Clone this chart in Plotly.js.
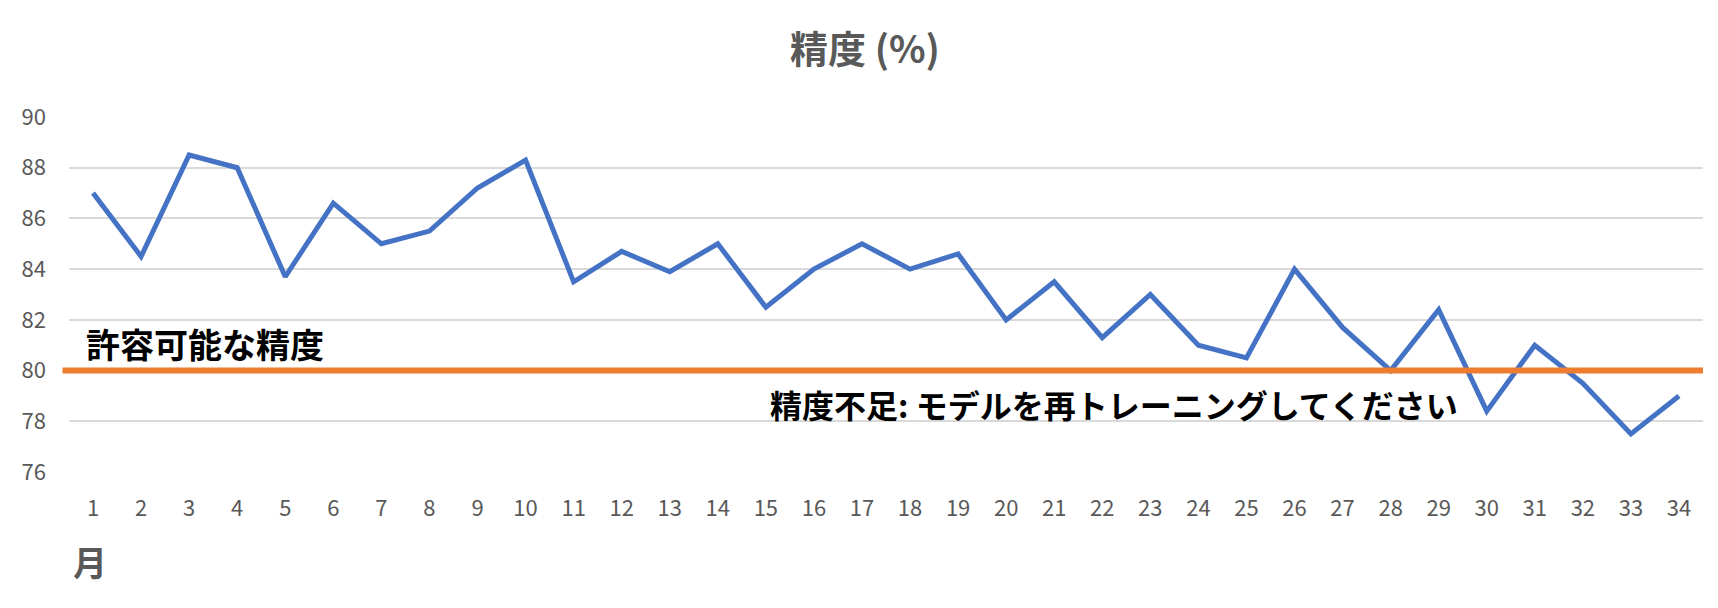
<!DOCTYPE html>
<html>
<head>
<meta charset="utf-8">
<script src="https://cdn.plot.ly/plotly-3.0.1.min.js"></script>
<style>
  html, body { margin: 0; padding: 0; background: #fff; }
  #chart { width: 1718px; height: 608px; }
</style>
</head>
<body>
<div id="chart"></div>
<script>
// months 1..34
const months = [1, 2, 3, 4, 5, 6, 7, 8, 9, 10, 11, 12, 13, 14, 15, 16, 17,
                18, 19, 20, 21, 22, 23, 24, 25, 26, 27, 28, 29, 30, 31, 32, 33, 34];
const accuracy = [87.0, 84.5, 88.5, 88.0, 83.7, 86.6, 85.0, 85.5, 87.2, 88.3, 83.5,
                  84.7, 83.9, 85.0, 82.5, 84.0, 85.0, 84.0, 84.6, 82.0, 83.5, 81.3,
                  83.0, 81.0, 80.5, 84.0, 81.7, 80.0, 82.4, 78.4, 81.0, 79.5, 77.5, 79.0];
const threshold = 80;
const yTicks = [76, 78, 80, 82, 84, 86, 88, 90];

const chartTitle = "精度 (%)";
const xLabel = "月";
const okLabel = "許容可能な精度";
const lowLabel = "精度不足: モデルを再トレーニングしてください";

const jp = '"Noto Sans CJK JP", "Noto Sans", sans-serif';

const traceAccuracy = {
    x: months,
    y: accuracy,
    type: "scatter",
    mode: "lines",
    line: { color: "#4472C4", width: 5 },
    hoverinfo: "x+y"
};

const layout = {
    width: 1718,
    height: 608,
    paper_bgcolor: "#ffffff",
    plot_bgcolor: "#ffffff",
    showlegend: false,
    margin: { l: 69, r: 15, t: 117, b: 136 },
    title: {
        text: "<b>" + chartTitle + "</b>",
        font: { family: jp, size: 38, color: "#595959" },
        x: 0.5035, xref: "container", xanchor: "center",
        y: 0.918, yref: "container", yanchor: "middle"
    },
    xaxis: {
        range: [0.5, 34.5],
        tickmode: "array",
        tickvals: months,
        ticktext: months.map(String),
        showgrid: false,
        zeroline: false,
        showline: false,
        ticks: "",
        ticklabelstandoff: 21,
        tickfont: { family: jp, size: 22, color: "#595959" }
    },
    yaxis: {
        range: [76, 90],
        tickmode: "array",
        tickvals: yTicks,
        showgrid: true,
        gridcolor: "#d9d9d9",
        gridwidth: 2,
        zeroline: false,
        showline: false,
        ticks: "",
        ticklabelstandoff: 22,
        tickfont: { family: jp, size: 22, color: "#595959" }
    },
    shapes: [{
        type: "line",
        xref: "paper", yref: "y",
        x0: -0.004, x1: 1.0,
        y0: threshold, y1: threshold,
        line: { color: "#ED7D31", width: 6 },
        layer: "above"
    }],
    annotations: [
        {
            text: "<b>" + okLabel + "</b>",
            xref: "paper", yref: "y",
            x: 0.0092, y: 81.08,
            xanchor: "left", yanchor: "middle",
            showarrow: false,
            font: { family: jp, size: 34, color: "#000000" }
        },
        {
            text: "<b>" + lowLabel + "</b>",
            xref: "paper", yref: "y",
            x: 0.428, y: 78.67,
            xanchor: "left", yanchor: "middle",
            showarrow: false,
            font: { family: jp, size: 32, color: "#000000" }
        },
        {
            text: "<b>" + xLabel + "</b>",
            xref: "paper", yref: "paper",
            x: 0.0015, y: -0.2515,
            xanchor: "left", yanchor: "middle",
            showarrow: false,
            font: { family: jp, size: 34, color: "#595959" }
        }
    ]
};

Plotly.newPlot("chart", [traceAccuracy], layout, { displayModeBar: false, staticPlot: true });
</script>
</body>
</html>
